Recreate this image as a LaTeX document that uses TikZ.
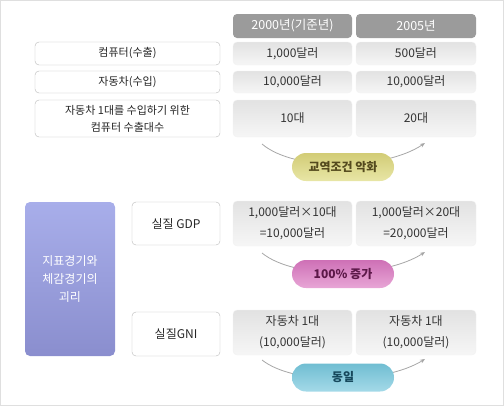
\documentclass[tikz,border=0pt]{standalone}
\usepackage{fontspec}
\setmainfont{Noto Sans CJK KR}
\usepackage{tikz}
\usetikzlibrary{arrows.meta, positioning, shapes.misc}

\definecolor{headgray}{RGB}{155,155,155}
\definecolor{celltop}{RGB}{226,226,226}
\definecolor{cellbot}{RGB}{246,246,246}
\definecolor{purtop}{RGB}{168,174,234}
\definecolor{purbot}{RGB}{138,142,206}
\definecolor{yeltop}{RGB}{210,204,118}
\definecolor{yelbot}{RGB}{232,230,166}
\definecolor{pinktop}{RGB}{206,112,182}
\definecolor{pinkbot}{RGB}{232,166,214}
\definecolor{cyantop}{RGB}{112,190,210}
\definecolor{cyanbot}{RGB}{164,218,232}

\begin{document}
\begin{tikzpicture}[x=1pt, y=-1pt,
                head/.style={fill=headgray, rounded corners=4pt, text=white, inner sep=0pt,
                    font=\fontsize{12.5}{14}\selectfont, minimum width=119pt, minimum height=24pt},
                cell/.style={draw=gray!10, top color=celltop, bottom color=cellbot, rounded corners=4pt,
                    inner sep=0pt, align=center, text=black!80, font=\fontsize{12}{21}\selectfont,
                    minimum width=119pt},
                lbl/.style={draw=gray!55, fill=white, rounded corners=4pt, inner sep=0pt, align=center,
                    text=black!85, font=\fontsize{11}{17}\selectfont},
                oval/.style={rounded rectangle, inner sep=0pt, minimum width=102pt, minimum height=28pt,
                    font=\fontsize{12}{14}\selectfont\bfseries},
                arr/.style={-{Stealth[length=5pt, width=4pt]}, gray!70, thick}]
                \useasboundingbox (0,0) rectangle (504,407);
                \draw[gray!25] (0.5,0.5) rectangle (503,405.5);
                % column heads
                \node[head] (y0) at (292.5,26) {2000년(기준년)};
                \node[head, minimum width=120pt] (y5) at (416,26) {2005년};
                % upper table
                \node[lbl, minimum width=185pt, minimum height=23pt] (pc) at (127.5,53.5) {컴퓨터(수출)};
                \node[lbl, minimum width=185pt, minimum height=22pt] (car) at (127.5,82) {자동차(수입)};
                \node[lbl, minimum width=185pt, minimum height=37pt] (num) at (127.5,118.5)
                    {자동차 1대를 수입하기 위한\\컴퓨터 수출대수};
                \node[cell, minimum height=23pt] (pc0) at (292.5,53.5) {1,000달러};
                \node[cell, minimum height=23pt, minimum width=120pt] (pc5) at (416,53.5) {500달러};
                \node[cell, minimum height=22pt] (car0) at (292.5,82) {10,000달러};
                \node[cell, minimum height=22pt, minimum width=120pt] (car5) at (416,82) {10,000달러};
                \node[cell, minimum height=37pt] (num0) at (292.5,118.5) {10대};
                \node[cell, minimum height=37pt, minimum width=120pt] (num5) at (416,118.5) {20대};
                \coordinate (tt0) at (262,144);
                \coordinate (tt5) at (425,143);
                \draw[arr] (tt0) .. controls (295,172) and (385,170) .. (tt5);
                \node[oval, top color=yeltop, bottom color=yelbot, text={rgb,255:red,84;green,74;blue,30}]
                    (tot) at (343,167) {교역조건 악화};
                % lower table
                \node[top color=purtop, bottom color=purbot, rounded corners=5pt, minimum width=90pt,
                    minimum height=154pt, inner sep=0pt, align=center, text=white,
                    font=\fontsize{12}{18}\selectfont] (gap) at (70,279) {지표경기와\\체감경기의\\괴리};
                \node[lbl, minimum width=88pt, minimum height=43pt, font=\fontsize{12}{14}\selectfont]
                    (gdp) at (176,223.5) {실질 GDP};
                \node[lbl, minimum width=88pt, minimum height=44pt, font=\fontsize{12}{14}\selectfont]
                    (gni) at (176,334) {실질GNI};
                \node[cell, minimum height=45pt] (gdp0) at (292.5,223.5) {1,000달러×10대\\=10,000달러};
                \node[cell, minimum height=45pt, minimum width=120pt] (gdp5) at (416,223.5)
                    {1,000달러×20대\\=20,000달러};
                \node[cell, minimum height=45pt] (gni0) at (292.5,332.5) {자동차 1대\\(10,000달러)};
                \node[cell, minimum height=45pt, minimum width=120pt] (gni5) at (416,332.5)
                    {자동차 1대\\(10,000달러)};
                \coordinate (gd0) at (262,253);
                \coordinate (gd5) at (425,252);
                \draw[arr] (gd0) .. controls (295,280) and (385,278) .. (gd5);
                \node[oval, top color=pinktop, bottom color=pinkbot, text={rgb,255:red,92;green,24;blue,72}]
                    (up) at (343,274) {100\% 증가};
                \coordinate (gn0) at (262,360);
                \coordinate (gn5) at (425,359);
                \draw[arr] (gn0) .. controls (295,386) and (385,384) .. (gn5);
                \node[oval, top color=cyantop, bottom color=cyanbot, text={rgb,255:red,22;green,72;blue,92}]
                    (same) at (343,377.5) {동일};
            \end{tikzpicture}
\end{document}
